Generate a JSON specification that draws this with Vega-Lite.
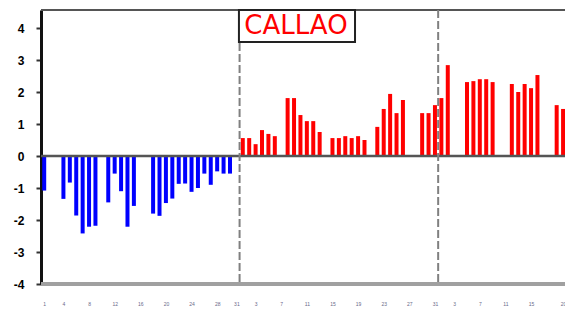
{
  "$schema": "https://vega.github.io/schema/vega-lite/v6.json",
  "width": 524,
  "height": 274,
  "autosize": {"type": "none"},
  "padding": {"left": 41, "top": 10, "right": 0, "bottom": 25},
  "background": "white",
  "config": {"view": {"stroke": null}},
  "datasets": {
    "anom": [
      {"d": 1, "v": -1.08}, {"d": 4, "v": -1.34}, {"d": 5, "v": -0.83}, {"d": 6, "v": -1.86},
      {"d": 7, "v": -2.42}, {"d": 8, "v": -2.21}, {"d": 9, "v": -2.18}, {"d": 11, "v": -1.45},
      {"d": 12, "v": -0.55}, {"d": 13, "v": -1.1}, {"d": 14, "v": -2.21}, {"d": 15, "v": -1.56},
      {"d": 18, "v": -1.8}, {"d": 19, "v": -1.87}, {"d": 20, "v": -1.47}, {"d": 21, "v": -1.33},
      {"d": 22, "v": -0.87}, {"d": 23, "v": -0.86}, {"d": 24, "v": -1.12}, {"d": 25, "v": -1.0},
      {"d": 26, "v": -0.55}, {"d": 27, "v": -0.9}, {"d": 28, "v": -0.48}, {"d": 29, "v": -0.55},
      {"d": 30, "v": -0.55},
      {"d": 32, "v": 0.56}, {"d": 33, "v": 0.56}, {"d": 34, "v": 0.37}, {"d": 35, "v": 0.81},
      {"d": 36, "v": 0.69}, {"d": 37, "v": 0.62}, {"d": 39, "v": 1.81}, {"d": 40, "v": 1.81},
      {"d": 41, "v": 1.28}, {"d": 42, "v": 1.09}, {"d": 43, "v": 1.09}, {"d": 44, "v": 0.75},
      {"d": 46, "v": 0.56}, {"d": 47, "v": 0.56}, {"d": 48, "v": 0.62}, {"d": 49, "v": 0.56},
      {"d": 50, "v": 0.62}, {"d": 51, "v": 0.5}, {"d": 53, "v": 0.91}, {"d": 54, "v": 1.47},
      {"d": 55, "v": 1.94}, {"d": 56, "v": 1.34}, {"d": 57, "v": 1.75}, {"d": 60, "v": 1.34},
      {"d": 61, "v": 1.34}, {"d": 62, "v": 1.59},
      {"d": 63, "v": 1.81}, {"d": 64, "v": 2.84}, {"d": 67, "v": 2.31}, {"d": 68, "v": 2.34},
      {"d": 69, "v": 2.4}, {"d": 70, "v": 2.4}, {"d": 71, "v": 2.31}, {"d": 74, "v": 2.25},
      {"d": 75, "v": 2.0}, {"d": 76, "v": 2.25}, {"d": 77, "v": 2.12}, {"d": 78, "v": 2.53},
      {"d": 81, "v": 1.59}, {"d": 82, "v": 1.47}
    ],
    "bounds": [{"b": 31.5}, {"b": 62.5}]
  },
  "layer": [
    {
      "data": {"name": "anom"},
      "mark": {"type": "bar", "size": 4},
      "encoding": {
        "x": {
          "field": "d", "type": "quantitative",
          "scale": {"domain": [0.5, 82.3], "nice": false, "zero": false, "padding": 0},
          "axis": {
            "title": null, "domain": false, "ticks": false, "tickSize": 0, "grid": false,
            "tickCount": 40,
            "values": [1, 4, 8, 12, 16, 20, 24, 28, 31, 34, 38, 42, 46, 50, 54, 58, 62, 65, 69, 73, 77, 82],
            "labelExpr": "datum.value <= 31 ? '' + datum.value : (datum.value <= 62 ? '' + (datum.value - 31) : '' + (datum.value - 62))",
            "labelFontSize": 5, "labelColor": "#6a6a8a", "labelPadding": 17,
            "labelOverlap": false, "labelFlush": false, "labelBound": false
          }
        },
        "y": {
          "field": "v", "type": "quantitative",
          "scale": {"domain": [-4, 4.5625], "nice": false},
          "axis": {
            "title": null, "grid": false, "tickCount": 20,
            "values": [-4, -3, -2, -1, 0, 1, 2, 3, 4],
            "labelExpr": "datum.value < 0 ? '-' + abs(datum.value) : '' + datum.value",
            "labelFont": "Liberation Sans", "labelFontWeight": "bold", "labelFontSize": 12,
            "labelColor": "#000000", "labelPadding": 12, "labelOverlap": false,
            "domainColor": "#111111", "domainWidth": 3,
            "tickColor": "#333333", "tickWidth": 2, "tickSize": 5
          }
        },
        "color": {
          "condition": {"test": "datum.v < 0", "value": "#0000ff"},
          "value": "#ff0000"
        }
      }
    },
    {
      "data": {"values": [{}]},
      "mark": {"type": "rule", "color": "#555555", "strokeWidth": 2.5},
      "encoding": {"y": {"datum": 0, "type": "quantitative"}}
    },
    {
      "data": {"values": [{}]},
      "mark": {"type": "rule", "color": "#a0a0a0", "strokeWidth": 4},
      "encoding": {"y": {"datum": -4, "type": "quantitative"}}
    },
    {
      "data": {"values": [{}]},
      "mark": {"type": "rule", "color": "#555555", "strokeWidth": 2},
      "encoding": {"y": {"datum": 4.5625, "type": "quantitative"}}
    },
    {
      "data": {"name": "bounds"},
      "mark": {"type": "rule", "color": "#808080", "strokeWidth": 2, "strokeDash": [8, 3]},
      "encoding": {"x": {"field": "b", "type": "quantitative"}}
    },
    {
      "data": {"values": [{}]},
      "mark": {"type": "rect", "fill": "#555555", "xOffset": 1.5, "yOffset": 1.5},
      "encoding": {
        "x": {"datum": 31.4, "type": "quantitative"},
        "x2": {"datum": 49.52},
        "y": {"datum": 4.5625, "type": "quantitative"},
        "y2": {"datum": 3.5625}
      }
    },
    {
      "data": {"values": [{}]},
      "mark": {"type": "rect", "fill": "#ffffff", "stroke": "#222222", "strokeWidth": 2},
      "encoding": {
        "x": {"datum": 31.4, "type": "quantitative"},
        "x2": {"datum": 49.52},
        "y": {"datum": 4.5625, "type": "quantitative"},
        "y2": {"datum": 3.5625}
      }
    },
    {
      "data": {"values": [{"t": "CALLAO"}]},
      "mark": {"type": "text", "font": "DejaVu Sans", "fontSize": 26, "color": "#ff0000", "align": "center", "baseline": "alphabetic"},
      "encoding": {
        "x": {"datum": 40.31, "type": "quantitative"},
        "y": {"datum": 3.8125, "type": "quantitative"},
        "text": {"field": "t"}
      }
    }
  ]
}
